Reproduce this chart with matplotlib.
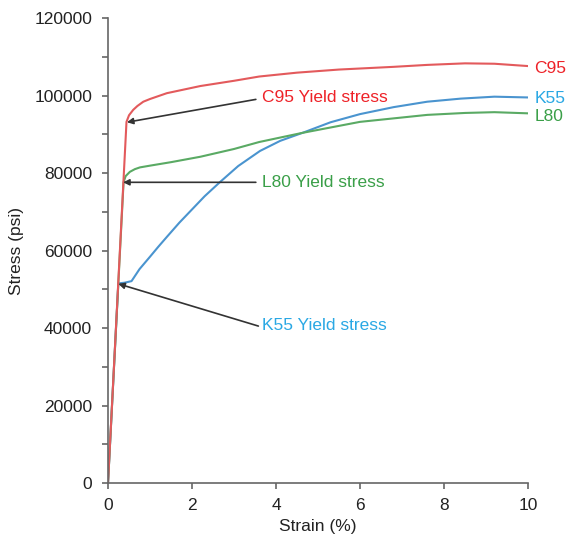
import matplotlib
matplotlib.use("Agg")
import matplotlib.pyplot as plt
from matplotlib.ticker import MultipleLocator

plt.rcParams['font.family'] = ['Liberation Sans', 'DejaVu Sans']
plt.rcParams['font.size'] = 12.5

# Stress-strain curves (strain in %, stress in psi)
c95_strain = [0, 0.44, 0.5, 0.6, 0.7, 0.84, 1.0, 1.4, 2.2, 3.0, 3.6, 4.5, 5.5, 6.8, 7.6, 8.5, 9.2, 10]
c95_stress = [0, 93200, 94900, 96300, 97300, 98400, 99100, 100600, 102450, 103800, 104900,
              105900, 106700, 107400, 107900, 108300, 108200, 107600]

l80_strain = [0, 0.37, 0.42, 0.52, 0.64, 0.76, 1.0, 1.5, 2.2, 3.0, 3.6, 4.6, 6.0, 7.6, 8.5, 9.2, 10]
l80_stress = [0, 77600, 79200, 80300, 81000, 81450, 81900, 82800, 84200, 86200, 88000,
              90300, 93200, 95000, 95500, 95700, 95400]

k55_strain = [0, 0.245, 0.4, 0.56, 0.75, 1.0, 1.2, 1.4, 1.7, 2.0, 2.3, 2.67, 3.1, 3.62, 4.1,
              4.64, 5.3, 6.0, 6.8, 7.6, 8.4, 9.2, 10]
k55_stress = [0, 51500, 51700, 52100, 55200, 58400, 61000, 63500, 67200, 70600, 74000, 77700,
              81800, 85700, 88300, 90400, 93100, 95200, 97000, 98400, 99200, 99700, 99500]

yield_points = {"C95": (0.45, 93100), "L80": (0.36, 77600), "K55": (0.245, 51400)}

line_col = {"C95": "#e35a5c", "K55": "#4a94cf", "L80": "#5aaa64"}
text_col = {"C95": "#ee2228", "K55": "#2aa8e4", "L80": "#3a9f48"}

fig = plt.figure(figsize=(5.67, 5.41), dpi=100)
ax = fig.add_axes([0.1905, 0.1072, 0.7407, 0.8595])

ax.plot(k55_strain, k55_stress, color=line_col["K55"], lw=1.5)
ax.plot(l80_strain, l80_stress, color=line_col["L80"], lw=1.5)
ax.plot(c95_strain, c95_stress, color=line_col["C95"], lw=1.5)

# curve labels at the right end
ax.text(10.15, 107000, "C95", color=text_col["C95"], va="center", ha="left", clip_on=False)
ax.text(10.15, 99300, "K55", color=text_col["K55"], va="center", ha="left", clip_on=False)
ax.text(10.15, 94500, "L80", color=text_col["L80"], va="center", ha="left", clip_on=False)

# yield stress callouts
arrow = dict(arrowstyle="-|>", color="#333333", lw=1.2, mutation_scale=9, shrinkA=0, shrinkB=0)
ax.annotate("", xy=yield_points["C95"], xytext=(3.52, 99000), arrowprops=arrow)
ax.annotate("", xy=yield_points["L80"], xytext=(3.52, 77600), arrowprops=arrow)
ax.annotate("", xy=yield_points["K55"], xytext=(3.58, 40500), arrowprops=arrow)
ax.text(3.67, 99400, "C95 Yield stress", color=text_col["C95"], va="center")
ax.text(3.67, 77600, "L80 Yield stress", color=text_col["L80"], va="center")
ax.text(3.67, 40700, "K55 Yield stress", color=text_col["K55"], va="center")

ax.set_xlim(0, 10)
ax.set_ylim(0, 120000)
ax.xaxis.set_major_locator(MultipleLocator(2))
ax.yaxis.set_major_locator(MultipleLocator(20000))
ax.yaxis.set_minor_locator(MultipleLocator(10000))

for side in ["top", "right"]:
    ax.spines[side].set_visible(False)
for side in ["left", "bottom"]:
    ax.spines[side].set_color("#666666")
    ax.spines[side].set_linewidth(1.2)

ax.tick_params(which="both", direction="out", length=4.5, width=1.2, color="#666666",
               labelcolor="#222222")
ax.tick_params(axis="y", pad=7)
ax.tick_params(axis="x", pad=6)

ax.set_xlabel("Strain (%)", color="#222222")
ax.set_ylabel("Stress (psi)", color="#222222")
ax.xaxis.set_label_coords(0.5, -0.077)
ax.yaxis.set_label_coords(-0.2, 0.5)

fig.savefig("out.png", dpi=100)
